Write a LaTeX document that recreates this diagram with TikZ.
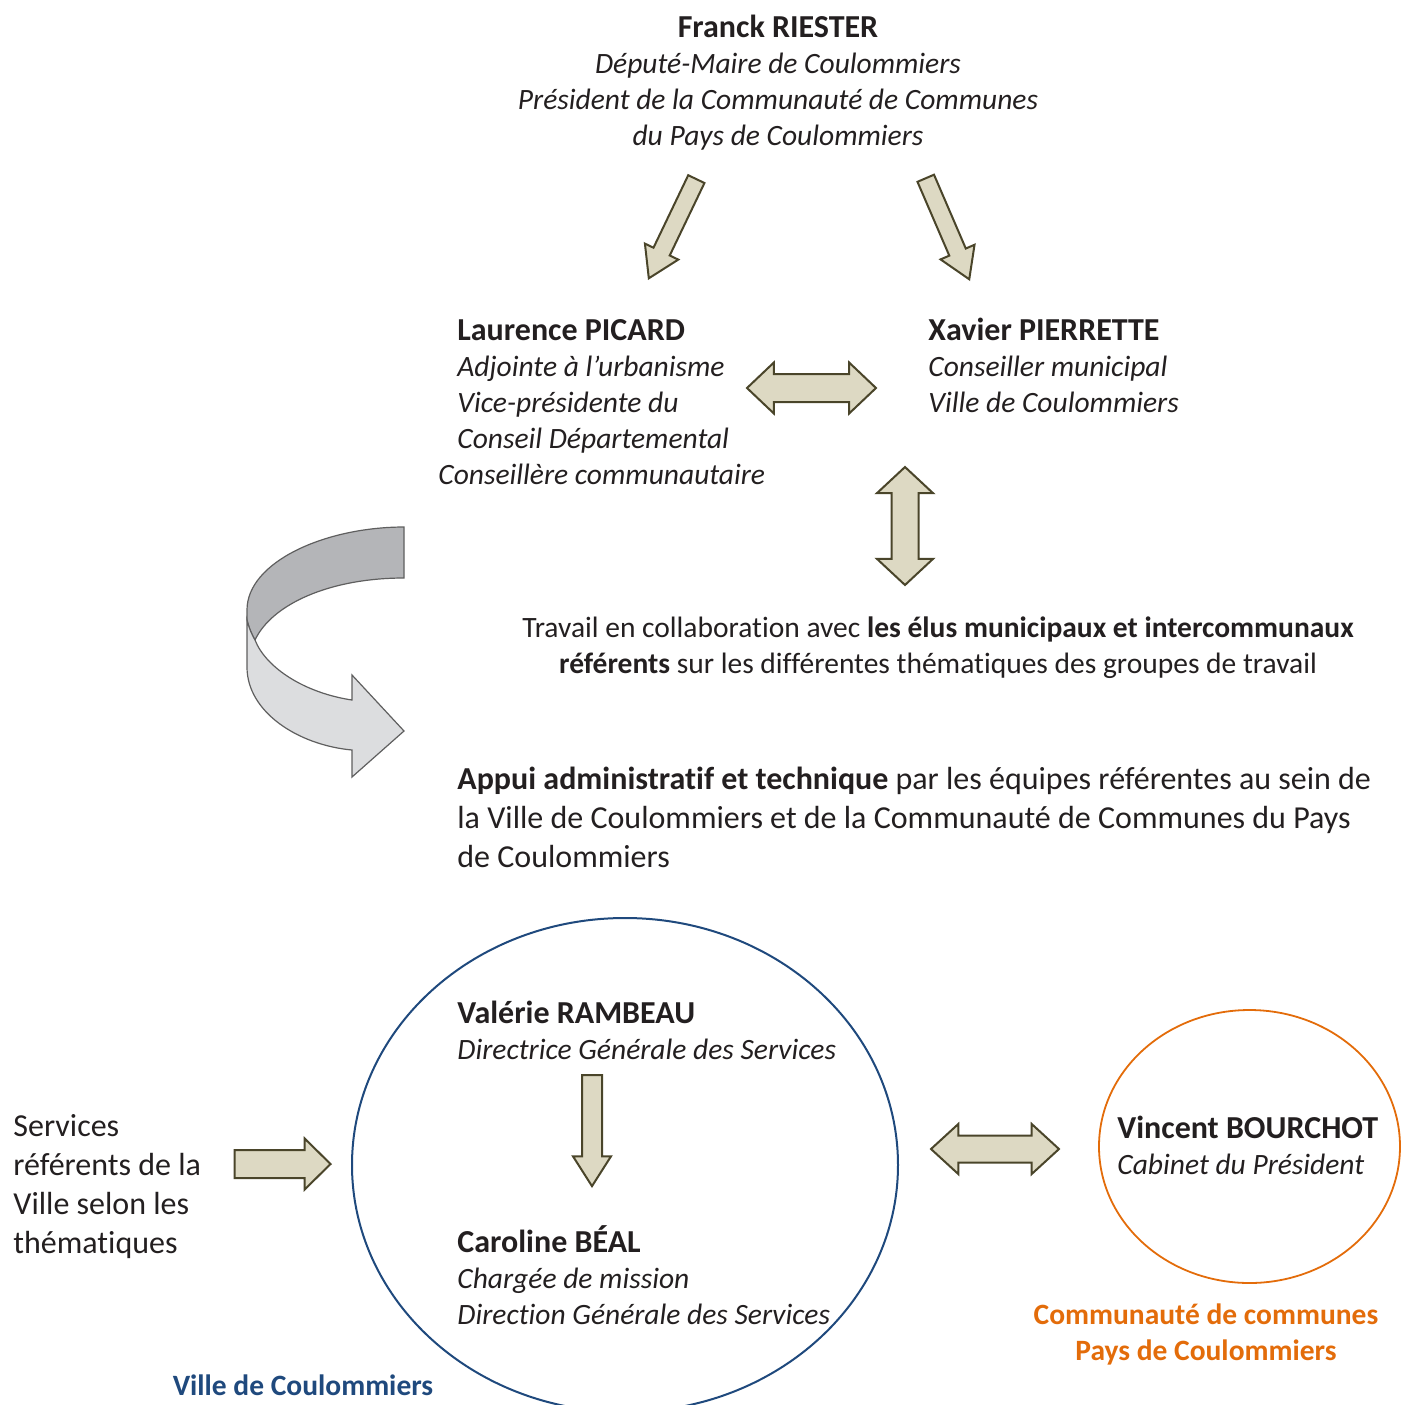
\documentclass[tikz,border=0pt]{standalone}
\usepackage{fontspec}
\setmainfont{Carlito}[Ligatures=NoCommon]
\usepackage{tikz}
\usetikzlibrary{shapes,arrows,positioning,calc}

\definecolor{txt}{RGB}{35,31,32}
\definecolor{beige}{HTML}{DDD9C3}
\definecolor{olive}{HTML}{4A452A}
\definecolor{villeblue}{HTML}{1F497D}
\definecolor{ccorange}{HTML}{E36C0A}
\definecolor{greydark}{HTML}{B4B5B8}
\definecolor{greylight}{HTML}{DCDDDF}
\definecolor{greyline}{HTML}{5F5F5F}

\newcommand{\nom}[1]{{\fontsize{16}{18}\selectfont\bfseries #1}}

\tikzset{
  txtnode/.style={inner sep=0pt,text=txt,font=\fontsize{14.75}{18}\selectfont},
  bigtxt/.style={inner sep=0pt,text=txt,font=\fontsize{16}{19.5}\selectfont},
  fat/.style={draw=olive,fill=beige,line width=1pt,inner sep=0pt,minimum width=0pt},
}

\begin{document}
\begin{tikzpicture}[x=0.5pt,y=-0.5pt]
  \useasboundingbox (0,0) rectangle (1402,1405);

  % elus (base = last line)
  \node[txtnode,anchor=base,align=center] (riester) at (778,145)
  {\nom{Franck RIESTER}\\ \textit{Député-Maire de Coulommiers}\\
   \textit{Président de la Communauté de Communes}\\ \textit{du Pays de Coulommiers}};
  \node[txtnode,anchor=base west,align=left] (picard) at (457,484)
  {\nom{Laurence PICARD}\\ \textit{Adjointe à l’urbanisme}\\
   \textit{Vice-présidente du}\\ \textit{Conseil Départemental}\\
   \hspace*{-9.5pt}\textit{Conseillère communautaire}};
  \node[txtnode,anchor=base west,align=left] (pierrette) at (928,412)
  {\nom{Xavier PIERRETTE}\\ \textit{Conseiller municipal}\\
   \textit{Ville de Coulommiers}};

  \node[fat,single arrow,inner ysep=4pt,single arrow head extend=4.75pt,
  single arrow tip angle=64,minimum height=55pt,rotate=244.4,anchor=tip]
  (arrowpl) at (648,280) {};
  \node[fat,single arrow,inner ysep=4pt,single arrow head extend=4.75pt,
  single arrow tip angle=64,minimum height=55pt,rotate=293.3,anchor=tip]
  (arrowpr) at (970,281) {};
  \node[fat,double arrow,inner ysep=6.5pt,double arrow head extend=5.75pt,
  double arrow tip angle=87,minimum height=64.5pt] (arrowh) at (811.5,388) {};
  \node[fat,double arrow,inner ysep=6.25pt,double arrow head extend=7.25pt,
  double arrow tip angle=94,minimum height=59pt,rotate=90] (arrowv) at (905,526) {};

  \node[txtnode,anchor=base,align=center] (travail) at (938,673)
  {Travail en collaboration avec \textbf{les élus municipaux et intercommunaux}\\
   \textbf{référents} sur les différentes thématiques des groupes de travail};

  % fleche courbe
  \draw[greyline,line width=0.6pt,fill=greydark]
  (404,527) .. controls (325,527) and (247,562) .. (247,610) -- (247,620)
  .. controls (249,628) and (252,635) .. (255,640)
  .. controls (272,604) and (330,578) .. (404,578) -- cycle;
  \draw[greyline,line width=0.6pt,fill=greylight]
  (247,620) -- (247,667) .. controls (247,712) and (298,745) .. (352,750)
  -- (352,777) -- (404,731) -- (352,675) -- (352,700)
  .. controls (305,693) and (266,668) .. (255,640)
  .. controls (252,635) and (249,628) .. (247,620) -- cycle;

  \node[bigtxt,anchor=base west,align=left] (appui) at (457,867)
  {\textbf{Appui administratif et technique} par les équipes référentes au sein de\\
   la Ville de Coulommiers et de la Communauté de Communes du Pays\\
   de Coulommiers};

  % ville
  \node[ellipse,draw=villeblue,line width=1pt,minimum width=273pt,
  minimum height=247pt,inner sep=0pt] (ville) at (625,1165) {};
  \node[txtnode,anchor=base west,align=left] (rambeau) at (457,1059)
  {\nom{Valérie RAMBEAU}\\ \textit{Directrice Générale des Services}};
  \node[fat,single arrow,inner ysep=4.5pt,single arrow head extend=4.5pt,
  single arrow tip angle=65,minimum height=55.5pt,rotate=-90,anchor=tip]
  (arrowd) at (592,1188) {};
  \node[txtnode,anchor=base west,align=left] (beal) at (457,1324)
  {\nom{Caroline BÉAL}\\ \textit{Chargée de mission}\\
   \textit{Direction Générale des Services}};
  \node[txtnode,anchor=base,text=villeblue] (villelbl) at (303,1395)
  {\textbf{Ville de Coulommiers}};

  \node[bigtxt,anchor=base west,align=left] (services) at (13,1253)
  {Services\\ référents de la\\ Ville selon les\\ thématiques};
  \node[fat,single arrow,inner ysep=6.5pt,single arrow head extend=5.75pt,
  single arrow tip angle=89,minimum height=48pt,anchor=tip]
  (arrows) at (332,1164) {};

  % communaute
  \node[fat,double arrow,inner ysep=6.25pt,double arrow head extend=5.75pt,
  double arrow tip angle=85,minimum height=64pt] (arrowc) at (995,1149) {};
  \node[ellipse,draw=ccorange,line width=0.9pt,minimum width=150.5pt,
  minimum height=136.5pt,inner sep=0pt] (cc) at (1249.5,1146.5) {};
  \node[txtnode,anchor=base west,align=left] (bourchot) at (1117,1174)
  {\nom{Vincent BOURCHOT}\\ \textit{Cabinet du Président}};
  \node[txtnode,anchor=base,align=center,text=ccorange] (cclbl) at (1206,1360)
  {\textbf{Communauté de communes}\\ \textbf{Pays de Coulommiers}};
\end{tikzpicture}
\end{document}
